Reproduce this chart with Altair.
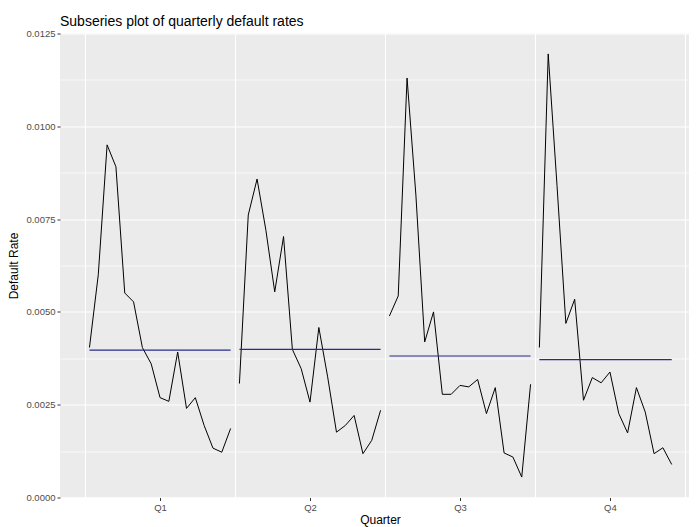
import altair as alt
import pandas as pd

quarters = ["Q1", "Q2", "Q3", "Q4"]
q1 = [0.00404, 0.0060, 0.0095, 0.00891, 0.00551, 0.00527, 0.00404, 0.0036, 0.00269,
      0.00259, 0.00392, 0.0024, 0.00269, 0.00194, 0.00133, 0.00122, 0.00186]
q2 = [0.00307, 0.00761, 0.00858, 0.0072, 0.00554, 0.00703, 0.00399, 0.00347, 0.00257,
      0.00458, 0.00325, 0.00176, 0.00194, 0.00221, 0.00118, 0.00154, 0.00235]
q3 = [0.00489, 0.00543, 0.0113, 0.00815, 0.00419, 0.005, 0.00278, 0.00278, 0.00302,
      0.00298, 0.00318, 0.00226, 0.00296, 0.0012, 0.00109, 0.00055, 0.00305]
q4 = [0.00404, 0.01195, 0.0084, 0.00469, 0.00534, 0.00262, 0.00323, 0.00309, 0.00338,
      0.00226, 0.00174, 0.00296, 0.0023, 0.00118, 0.00134, 0.00089]
n_years = 17
y_major = [0.0, 0.0025, 0.005, 0.0075, 0.01, 0.0125]
y_minor = [0.00125, 0.00375, 0.00625, 0.00875, 0.01125]
x_grid = [0.5, 1.5, 2.5, 3.5, 4.5]
x_ticks = [1, 2, 3, 4]

rows = []
for qi, series in enumerate([q1, q2, q3, q4], start=1):
    for i, v in enumerate(series):
        rows.append({"q": qi, "quarter": quarters[qi - 1], "i": i, "value": v})
df = pd.DataFrame(rows)

FONT = "Liberation Sans"
xscale = alt.Scale(domain=[0.333, 4.527], nice=False, zero=False)
yscale = alt.Scale(domain=[0, 0.0125], nice=False, zero=False)

base = alt.Chart(df).transform_calculate(
    xpos=f"datum.q - 0.5 + (datum.i + 0.5) / {n_years}"
)

data_layer = base.mark_line(color="black", strokeWidth=1).encode(
    x=alt.X("xpos:Q", scale=xscale, title="Quarter",
            axis=alt.Axis(values=x_ticks, grid=False, labelExpr="'Q' + datum.value",
                          orient="bottom", titleX=320, titlePadding=2)),
    y=alt.Y("value:Q", scale=yscale, title="Default Rate",
            axis=alt.Axis(values=y_major, format=".4f", grid=True, gridColor="white",
                          gridWidth=1.1, orient="left", titlePadding=5)),
    detail="q:N",
    order="i:Q",
)

mean_layer = base.transform_joinaggregate(
    avg="mean(value)", groupby=["q"]
).mark_line(color="#2B2B88", strokeWidth=1.2).encode(
    x=alt.X("xpos:Q", scale=xscale, title=None,
            axis=alt.Axis(values=x_grid, grid=True, gridColor="white", gridWidth=1.1,
                          labels=False, ticks=False, domain=False, orient="top")),
    y=alt.Y("avg:Q", scale=yscale, title=None,
            axis=alt.Axis(values=y_minor, grid=True, gridColor="white", gridWidth=0.7,
                          labels=False, ticks=False, domain=False, orient="right")),
    detail="q:N",
    order="i:Q",
)

chart = alt.layer(data_layer, mean_layer).resolve_axis(
    x="independent", y="independent"
).properties(
    width=629,
    height=464,
    autosize=alt.AutoSizeParams(type="none"),
    padding={"left": 52, "top": 25.5, "right": 0, "bottom": 29},
    title=alt.TitleParams("Subseries plot of quarterly default rates", anchor="start",
                          frame="group", font=FONT, fontSize=14, fontWeight="normal",
                          color="black", offset=0),
).configure_view(
    fill="#EBEBEB", strokeWidth=0
).configure_axis(
    labelFont=FONT, labelFontSize=9.5, labelColor="#4D4D4D",
    tickColor="#333333", tickSize=3, tickWidth=1, labelPadding=2,
    domain=False, titleFont=FONT, titleFontSize=12, titleColor="black",
    titleFontWeight="normal",
)

chart.save("out.html", embed_options={"renderer": "svg", "actions": False})
